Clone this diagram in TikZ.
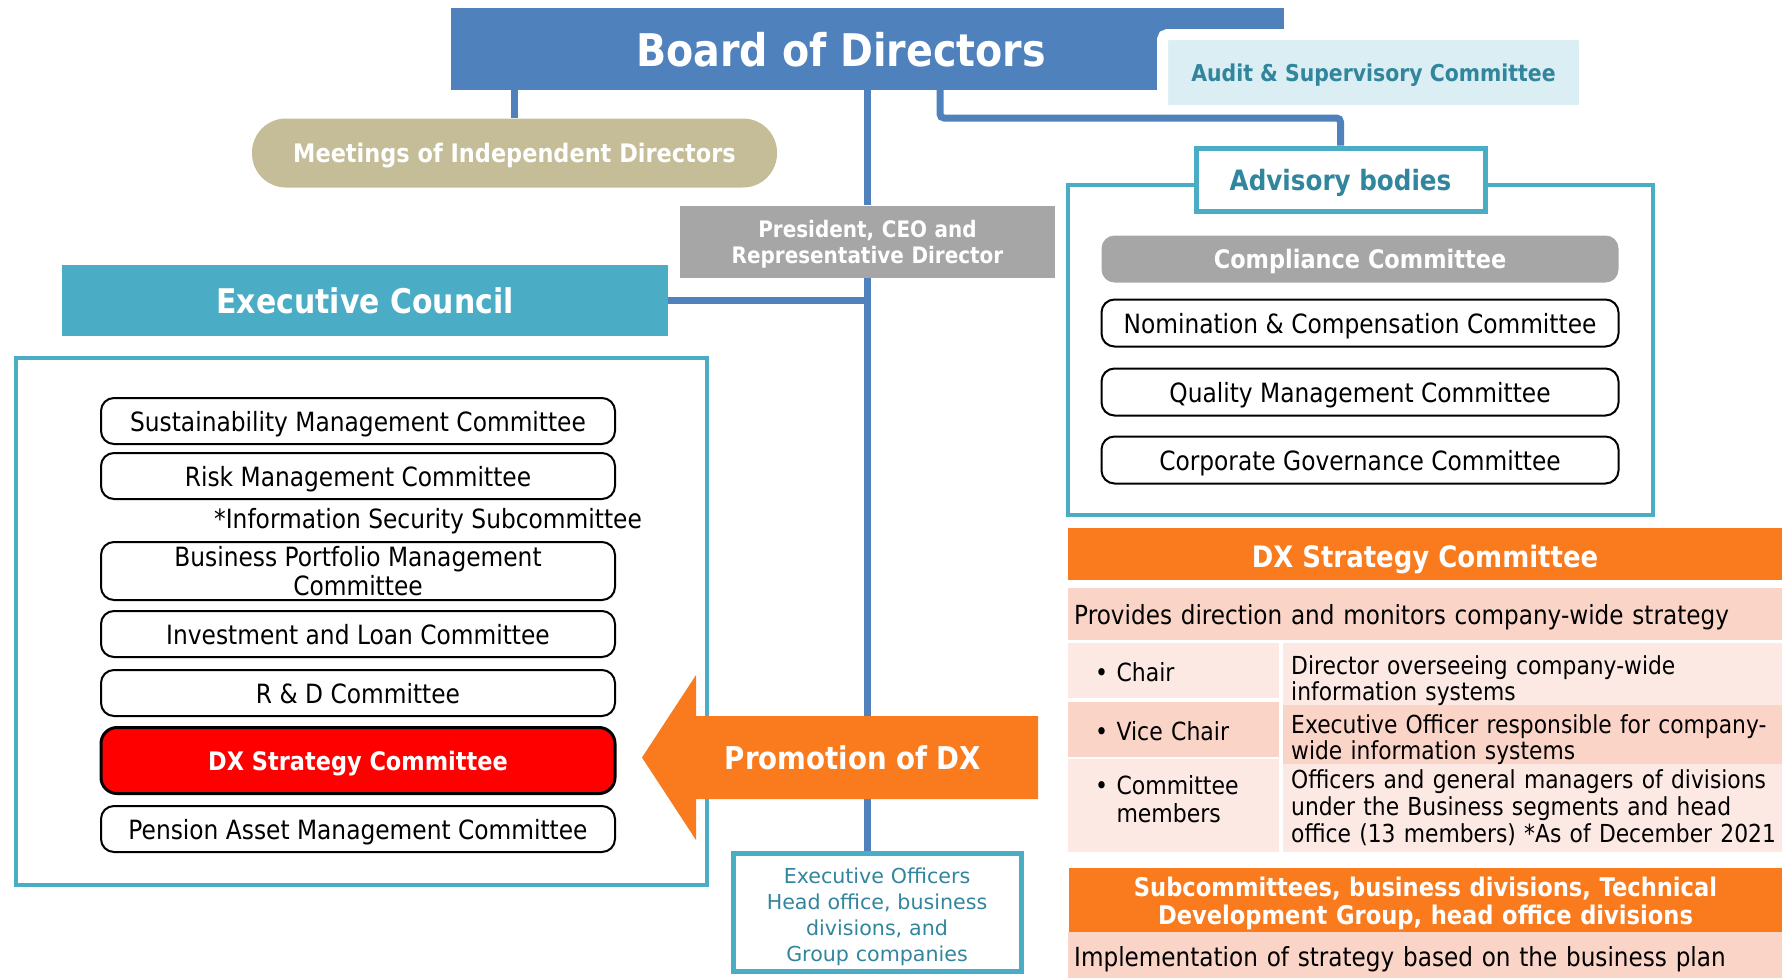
\documentclass[tikz,border=0pt]{standalone}
\usepackage{fontspec}
\setmainfont{DejaVu Sans}[FakeStretch=0.88]
\newfontfamily\widefont{DejaVu Sans}
\usepackage{tikz}
\usetikzlibrary{positioning}
\definecolor{boardblue}{HTML}{4F81BD}
\definecolor{cyanframe}{HTML}{4BACC6}
\definecolor{cyantext}{HTML}{31859C}
\definecolor{auditfill}{HTML}{DAEEF3}
\definecolor{khaki}{HTML}{C4BD97}
\definecolor{greybox}{HTML}{A6A6A6}
\definecolor{dxorange}{HTML}{FA7B1E}
\definecolor{pinkdark}{HTML}{FBD4C8}
\definecolor{pinklight}{HTML}{FDE9E3}
\newcommand{\fsz}[2]{\fontsize{#1}{#2}\selectfont}
\tikzstyle{cmtbox} = [rectangle, draw=black, line width=2pt, rounded corners=13pt, minimum width=514pt,
                      minimum height=46pt, inner sep=0pt, align=center, font=\fsz{26.5}{29}]
\tikzstyle{cmt}    = [cmtbox, text depth=0pt]
\tikzstyle{advcmt} = [cmt, minimum width=517pt, minimum height=47pt]
\tikzstyle{link}   = [draw=boardblue, line width=7pt]
\tikzstyle{frame}  = [rectangle, draw=cyanframe, line width=4pt, inner sep=0pt]

\begin{document}
\begin{tikzpicture}[x=1pt, y=-1pt,
		head/.style={rectangle, fill=#1, text=white, inner sep=0pt, align=center, font=\bfseries\fsz{34}{38}},
		cell/.style={rectangle, fill=#1, inner sep=0pt, anchor=north west, align=left}]
	\useasboundingbox (0,0) rectangle (1782,977);
	\node[rectangle, fill=boardblue, minimum width=833pt, minimum height=82pt, inner sep=0pt] (board) at (867.5,49) {};
	\node[text=white, font=\bfseries\fsz{45}{50}, inner sep=0pt, text depth=0pt] (boardtitle) at (841,49) {Board of Directors};
	\node[rectangle, fill=auditfill, draw=white, line width=11pt, rounded corners=5pt, minimum width=422pt,
		minimum height=76pt, inner sep=0pt, text depth=0pt, text=cyantext, font=\bfseries\fsz{23.2}{26}] (audit) at (1373.5,72.5) {Audit \& Supervisory Committee};
	\node[rectangle, fill=khaki, rounded corners=34pt, minimum width=525pt, minimum height=69pt, inner sep=0pt,
		text depth=0pt, text=white, font=\bfseries\fsz{25.5}{29}] (meet) at (514.5,153) {Meetings of Independent Directors};
	\node[rectangle, fill=greybox, minimum width=375pt, minimum height=72pt, inner sep=0pt, text width=360pt,
		text height=23pt, align=center, text=white, font=\bfseries\fsz{22.7}{26}] (pres) at (867.5,241.5) {President, CEO and\\Representative Director};
	\node[head=cyanframe, minimum width=606pt, minimum height=71pt, text depth=0pt] (council) at (365,300.5) {Executive Council};
	\node[frame, minimum width=691pt, minimum height=527pt] (execframe) at (361.5,621.5) {};

	\node[cmt] (sust) at (358,421) {Sustainability Management Committee};
	\node[cmt, below=7pt of sust] (risk) {Risk Management Committee};
	\node[anchor=west, inner sep=0pt, text depth=0pt, font=\fsz{26.5}{29}] (infosec) at (214,518) {*Information Security Subcommittee};
	\node[cmtbox, minimum height=58pt, below=41pt of risk] (bpm) {Business Portfolio Management\\Committee};
	\node[cmt, below=9pt of bpm] (invest) {Investment and Loan Committee};
	\node[cmt, below=11pt of invest] (rnd) {R \& D Committee};
	\node[cmt, fill=red, line width=3pt, rounded corners=16pt, minimum height=66pt, text=white,
		font=\bfseries\fsz{25.5}{29}, below=9pt of rnd] (dxcmt) {DX Strategy Committee};
	\node[cmt, below=10pt of dxcmt] (pension) {Pension Asset Management Committee};

	\node[frame, minimum width=585pt, minimum height=330pt] (advframe) at (1360.5,350) {};
	\node[rectangle, draw=cyanframe, line width=5pt, fill=white, minimum width=289pt, minimum height=63pt,
		inner sep=0pt, text depth=0pt, text=cyantext, font=\bfseries\fsz{28}{32}] (adv) at (1340.5,179.5) {Advisory bodies};
	\node[advcmt, fill=greybox, draw=none, text=white, font=\bfseries\fsz{25.5}{29}] (compl) at (1360,259) {Compliance Committee};
	\node[advcmt, below=15pt of compl] (nomin) {Nomination \& Compensation Committee};
	\node[advcmt, below=20pt of nomin] (quality) {Quality Management Committee};
	\node[advcmt, below=19pt of quality] (corpgov) {Corporate Governance Committee};

	\node[head=dxorange, minimum width=714pt, minimum height=52pt, text height=27pt, text depth=0pt,
		font=\bfseries\fsz{29.5}{34}] (dxhead) at (1425,554) {DX Strategy Committee};
	\node[cell=pinkdark, minimum width=714pt, minimum height=52pt, text width=702pt, inner xsep=6pt, text depth=0pt,
		font=\fsz{26.3}{29}] (remit) at (1068,588) {Provides direction and monitors company-wide strategy};
	\node[cell=pinklight, minimum width=211pt, minimum height=93pt, text width=157pt, inner xsep=27pt, text height=6pt,
		font=\fsz{25}{28.5}] (members) at (1068,759) {\textbullet\ Committee\\\phantom{\textbullet\ }members};
	\node[cell=pinklight, minimum width=499pt, minimum height=93pt, text width=495pt, inner xsep=8pt, text height=22pt,
		font=\fsz{24.8}{27}] (memberswho) at (1283,759) {Officers and general managers of divisions\\under the Business segments and head\\office (13 members) *As of December 2021};
	\node[cell=pinkdark, minimum width=211pt, minimum height=55pt, text width=157pt, inner xsep=27pt, text height=22pt,
		font=\fsz{25}{30}] (vice) at (1068,702) {\textbullet\ Vice Chair};
	\node[cell=pinkdark, minimum width=499pt, minimum height=55pt, text width=495pt, inner xsep=8pt, text height=31pt,
		font=\fsz{24.8}{26}] (vicewho) at (1283,702) {Executive Officer responsible for company-\\wide information systems};
	\node[cell=pinklight, minimum width=211pt, minimum height=55pt, text width=157pt, inner xsep=27pt, text height=22pt,
		font=\fsz{25}{30}] (chair) at (1068,643) {\textbullet\ Chair};
	\node[cell=pinklight, minimum width=499pt, minimum height=55pt, text width=495pt, inner xsep=8pt, text height=31pt,
		font=\fsz{24.8}{26}] (chairwho) at (1283,643) {Director overseeing company-wide\\information systems};
	\node[head=dxorange, minimum width=713pt, minimum height=64pt, text width=700pt, text height=26pt,
		font=\bfseries\fsz{25.7}{28.5}] (subhead) at (1425.5,900)
		{Subcommittees, business divisions, Technical\\Development Group, head office divisions};
	\node[cell=pinkdark, minimum width=714pt, minimum height=48pt, text width=702pt, inner xsep=6pt, text depth=0pt,
		font=\fsz{26.3}{29}] (implement) at (1068,932) {Implementation of strategy based on the business plan};

	\node[rectangle, draw=cyanframe, line width=5pt, minimum width=288pt, minimum height=118pt, inner sep=0pt,
		text width=280pt, text height=25pt, align=center, text=cyantext, font=\widefont\fsz{20.6}{26}] (officers) at (877,912)
		{Executive Officers\\Head office, business\\divisions, and\\Group companies};

	\coordinate (advtap) at (940,90);
	\draw[link] (board.south -| meet) -- (meet.north);
	\draw[link] (board.south -| pres) -- (pres.north);
	\draw[link] (pres.south) -- (pres.south |- officers.north);
	\draw[link] (council.east) -- (council.east -| pres.south);
	\draw[link, rounded corners=4pt] (advtap) -- ++(0,28) -| (adv.north);

	\fill[dxorange] (1038,716) -- (696,716) -- (696,675) -- (642,757.5) -- (696,840) -- (696,799) -- (1038,799) -- cycle;
	\node[text=white, text depth=0pt, font=\bfseries\fsz{31.4}{35}] (promo) at (853,757.5) {Promotion of DX};
\end{tikzpicture}
\end{document}
